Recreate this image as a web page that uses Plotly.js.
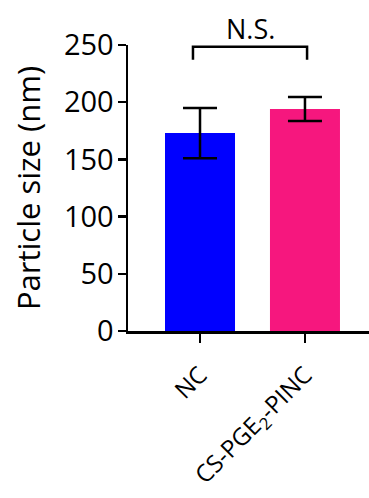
<!DOCTYPE html>
<html>
<head>
<meta charset="utf-8">
<script src="https://cdn.plot.ly/plotly-3.0.1.min.js"></script>
<style>html,body{margin:0;padding:0;background:#fff;}#chart{width:369px;height:498px;}</style>
</head>
<body>
<div id="chart"></div>
<script>
const categories = ['NC', 'CS-PGE<sub>2</sub>-PINC'];
const sizes = [173, 194];
const errors = [22, 10.5];
const barColors = ['#0000FF', '#F6177E'];
const yTicks = [0, 50, 100, 150, 200, 250];

const trace = {
  type: 'bar',
  x: [0, 1],
  y: sizes,
  width: 0.667,
  marker: {color: barColors, line: {width: 0}},
  error_y: {type: 'data', array: errors, visible: true, color: '#000', thickness: 2.5, width: 17},
  hoverinfo: 'none'
};

const layout = {
  width: 369, height: 498,
  margin: {l: 128, r: 0, t: 45, b: 167},
  paper_bgcolor: '#fff', plot_bgcolor: '#fff',
  font: {family: 'Open Sans, sans-serif', size: 28, color: '#000'},
  showlegend: false,
  xaxis: {
    range: [-0.686, 1.61],
    tickvals: [0, 1], ticktext: categories,
    tickangle: -45,
    showline: true, linewidth: 2.5, linecolor: '#000',
    ticks: 'outside', ticklen: 9, tickwidth: 2.5, tickcolor: '#000',
    showgrid: false, zeroline: false,
    tickfont: {size: 24},
    ticklabelstandoff: 9,
    automargin: false
  },
  yaxis: {
    range: [0, 250],
    tickvals: yTicks,
    showline: true, linewidth: 2.5, linecolor: '#000',
    ticks: 'outside', ticklen: 8, tickwidth: 2.5, tickcolor: '#000',
    showgrid: false, zeroline: false,
    tickfont: {size: 29},
    ticklabelstandoff: -2,
    title: {text: 'Particle size (nm)', font: {size: 31}, standoff: 14},
    automargin: false
  },
  shapes: [{
    type: 'path', xref: 'x', yref: 'y',
    path: 'M -0.067 237 L -0.067 248.5 L 1.02 248.5 L 1.02 237',
    line: {color: '#000', width: 2.5}
  }],
  annotations: [{
    x: 0.48, y: 1.059, xref: 'x', yref: 'paper',
    xanchor: 'center', yanchor: 'middle',
    text: 'N.S.', showarrow: false,
    font: {size: 27}
  }]
};

Plotly.newPlot('chart', [trace], layout, {staticPlot: true, displayModeBar: false});
</script>
</body>
</html>
